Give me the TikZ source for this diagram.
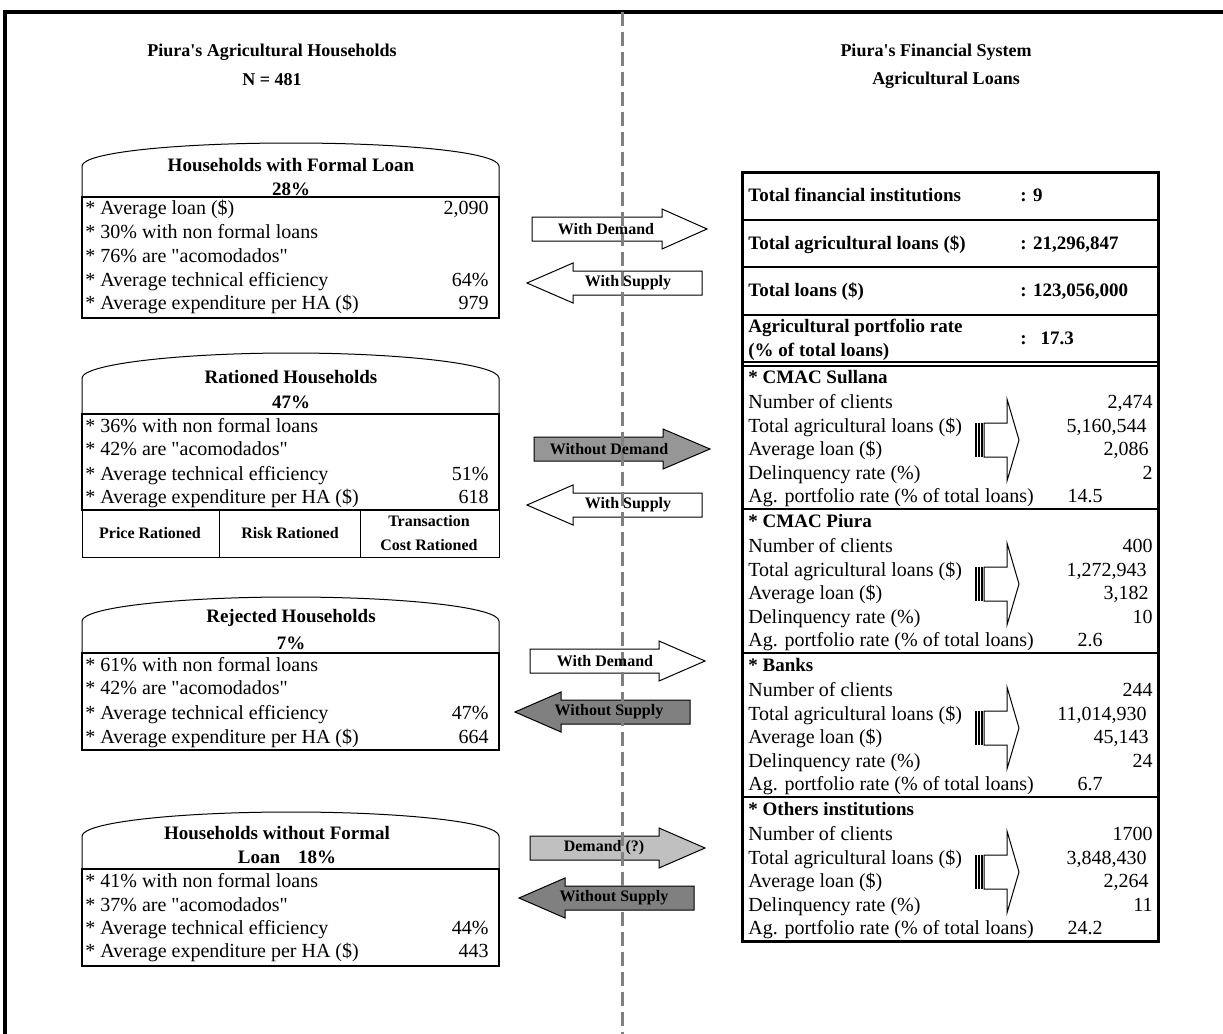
\documentclass[tikz,border=0pt]{standalone}
\usepackage{fontspec}
\setmainfont{Liberation Serif}
\usepackage{tikz}
\usetikzlibrary{positioning}

\definecolor{arrowmid}{RGB}{150,150,150}
\definecolor{arrowdark}{RGB}{128,128,128}
\definecolor{arrowlight}{RGB}{192,192,192}

\tikzset{
  txt/.style={font=\fontsize{10}{12}\selectfont, inner sep=0pt},
  hdr/.style={font=\fontsize{9.5}{11}\selectfont\bfseries, inner sep=0pt},
  lbl/.style={font=\fontsize{8}{10}\selectfont\bfseries, inner sep=0pt},
  ttl/.style={font=\fontsize{9}{11}\selectfont\bfseries, inner sep=0pt},
  boxline/.style={line width=1.1pt},
  thinline/.style={line width=0.5pt},
  blockarrow/.style={draw, line width=0.5pt, line join=miter},
}

% straight quotes as printed
\newcommand{\qq}[1]{\textquotedbl#1\textquotedbl}
% block arrows: left/base/tip/centre/fill and tip/base/right/centre/fill
\newcommand{\demandarrow}[5]{%
  \draw[blockarrow,fill=#5] (#1,#4-12) -- (#2,#4-12) -- (#2,#4-20) -- (#3,#4)
    -- (#2,#4+20) -- (#2,#4+12) -- (#1,#4+12) -- cycle;}
\newcommand{\supplyarrow}[5]{%
  \draw[blockarrow,fill=#5] (#3,#4-12) -- (#2,#4-12) -- (#2,#4-20) -- (#1,#4)
    -- (#2,#4+20) -- (#2,#4+12) -- (#3,#4+12) -- cycle;}
% rounded header: arc top, side start, body top
\newcommand{\dome}[3]{%
  \draw[thinline] (82,#3) -- (82,#2) .. controls (83,#2-14) and (180,#1) .. (291,#1)
    .. controls (402,#1) and (498,#2-14) .. (499,#2) -- (499,#3);}
% striped hollow arrow in the table
\newcommand{\stripearrow}[1]{%
  \foreach \sx in {976,979,982} \draw[line width=0.9pt] (\sx,#1-17) -- (\sx,#1+17);
  \draw[thinline] (984,#1-17) -- (1007,#1-17) -- (1007,#1-41) -- (1019,#1)
    -- (1007,#1+41) -- (1007,#1+17) -- (984,#1+17) -- cycle;}

\begin{document}
\begin{tikzpicture}[x=0.5pt,y=-0.5pt]
  \useasboundingbox (0,0) rectangle (1223,1034);
  \draw[line width=2pt] (5,1040) -- (5,12) -- (1230,12);

  % titles
  \node[ttl] (lefttitle) at (272,52) {Piura\textquotesingle s Agricultural Households};
  \node[ttl] (leftn) at (272,80) {N = 481};
  \node[ttl] (righttitle) at (936,52) {Piura\textquotesingle s Financial System};
  \node[ttl] (rightsub) at (946,80) {Agricultural Loans};

  % Households with formal loan
  \dome{143}{166}{197}
  \draw[boxline] (82,197) rectangle (499,318);
  \node[hdr] (formal) at (291,165) {Households with Formal Loan};
  \node[hdr] (formalpc) at (291,189) {28\%};
  \foreach \y/\txt/\val in {210/{* Average loan (\$)}/{2,090}, 234/{* 30\% with non formal loans}/{},
      258/{* 76\% are \qq{acomodados}}/{}, 282/{* Average technical efficiency}/{64\%},
      305/{* Average expenditure per HA (\$)}/{979}} {
    \node[txt,anchor=mid west] (fl\y) at (85,\y) {\txt};
    \node[txt,anchor=mid east] (flv\y) at (489,\y) {\val};
  }

  % Rationed households
  \dome{353}{378}{414}
  \draw[boxline] (82,414) rectangle (499,510);
  \draw[thinline] (82,510) rectangle (499,557);
  \draw[thinline] (219,510) -- (219,557) (360,510) -- (360,557);
  \node[hdr] (rationed) at (291,377) {Rationed Households};
  \node[hdr] (rationedpc) at (291,402) {47\%};
  \foreach \y/\txt/\val in {428/{* 36\% with non formal loans}/{}, 451/{* 42\% are \qq{acomodados}}/{},
      476/{* Average technical efficiency}/{51\%}, 499/{* Average expenditure per HA (\$)}/{618}} {
    \node[txt,anchor=mid west] (ra\y) at (85,\y) {\txt};
    \node[txt,anchor=mid east] (rav\y) at (489,\y) {\val};
  }
  \node[lbl] (price) at (150,533) {Price Rationed};
  \node[lbl] (risk) at (290,533) {Risk Rationed};
  \node[lbl,align=center] (trans) at (429,533) {Transaction\\[2pt]Cost Rationed};

  % Rejected households
  \dome{597}{621}{653}
  \draw[boxline] (82,653) rectangle (499,750);
  \node[hdr] (rejected) at (291,618) {Rejected Households};
  \node[hdr] (rejectedpc) at (291,643) {7\%};
  \foreach \y/\txt/\val in {667/{* 61\% with non formal loans}/{}, 690/{* 42\% are \qq{acomodados}}/{},
      715/{* Average technical efficiency}/{47\%}, 739/{* Average expenditure per HA (\$)}/{664}} {
    \node[txt,anchor=mid west] (re\y) at (85,\y) {\txt};
    \node[txt,anchor=mid east] (rev\y) at (489,\y) {\val};
  }

  % Households without formal loan
  \dome{812}{836}{869}
  \draw[boxline] (82,869) rectangle (499,966);
  \node[hdr] (noformal) at (277,833) {Households without Formal};
  \node[hdr] (noformalpc) at (287,857) {Loan\hspace{9pt}18\%};
  \foreach \y/\txt/\val in {883/{* 41\% with non formal loans}/{}, 907/{* 37\% are \qq{acomodados}}/{},
      930/{* Average technical efficiency}/{44\%}, 953/{* Average expenditure per HA (\$)}/{443}} {
    \node[txt,anchor=mid west] (nf\y) at (85,\y) {\txt};
    \node[txt,anchor=mid east] (nfv\y) at (489,\y) {\val};
  }

  % Financial system table
  \draw[line width=1.5pt] (742,172) rectangle (1158,941);
  \foreach \y in {220,267,315,362,366,509,653,797}
    \draw[boxline] (742,\y) -- (1158,\y);
  \foreach \y/\txt/\val in {197/{Total financial institutions}/{: 9},
      245/{Total agricultural loans (\$)}/{: 21,296,847}, 292/{Total loans (\$)}/{: 123,056,000}} {
    \node[hdr,anchor=mid west] (fs\y) at (748,\y) {\txt};
    \node[hdr,anchor=mid west] (fsv\y) at (1020,\y) {\val};
  }
  \node[hdr,anchor=mid west] (agrate) at (748,328) {Agricultural portfolio rate};
  \node[hdr,anchor=mid west] (agrate2) at (748,352) {(\% of total loans)};
  \node[hdr,anchor=mid west] (agratev) at (1020,340) {:\hspace{7pt}17.3};

  \foreach \sy/\name/\a/\b/\c/\d/\e in {365/{CMAC Sullana}/{2,474}/{5,160,544}/{2,086}/2/14.5,
      509/{CMAC Piura}/400/{1,272,943}/{3,182}/10/2.6,
      653/Banks/244/{11,014,930}/{45,143}/24/6.7,
      797/{Others institutions}/1700/{3,848,430}/{2,264}/11/24.2} {
    \node[hdr,anchor=mid west] (sec\sy) at (748,\sy+14) {* \name};
    \node[txt,anchor=mid west] (num\sy) at (748,\sy+39) {Number of clients};
    \node[txt,anchor=mid west] (tot\sy) at (748,\sy+62.5) {Total agricultural loans (\$)};
    \node[txt,anchor=mid west] (avg\sy) at (748,\sy+86) {Average loan (\$)};
    \node[txt,anchor=mid west] (del\sy) at (748,\sy+109.5) {Delinquency rate (\%)};
    \node[txt,anchor=mid west] (por\sy) at (748,\sy+133) {Ag. portfolio rate (\% of total loans)};
    \node[txt,anchor=mid east] (numv\sy) at (1153,\sy+39) {\a};
    \node[txt,anchor=mid east] (totv\sy) at (1147,\sy+62.5) {\b};
    \node[txt,anchor=mid east] (avgv\sy) at (1149,\sy+86) {\c};
    \node[txt,anchor=mid east] (delv\sy) at (1153,\sy+109.5) {\d};
    \node[txt,anchor=mid east] (porv\sy) at (1103,\sy+133) {\e};
    \stripearrow{\sy+75}
  }

  % demand and supply arrows
  \demandarrow{532}{662}{707}{229}{white}
  \supplyarrow{527}{573}{702}{283}{white}
  \demandarrow{534}{663}{710}{449}{arrowmid}
  \supplyarrow{527}{573}{702}{505}{white}
  \demandarrow{530}{659}{705}{661}{white}
  \supplyarrow{515}{561}{690}{712}{arrowdark}
  \demandarrow{530}{659}{705}{848}{arrowlight}
  \supplyarrow{519}{565}{694}{898}{arrowdark}

  \draw[gray, line width=1.5pt, dash pattern=on 7pt off 3pt] (622,12) -- (622,1040);

  \node[lbl] (dem1) at (606,229) {With Demand};
  \node[lbl] (sup1) at (628,283) {With Supply};
  \node[lbl] (dem2) at (609,449) {Without Demand};
  \node[lbl] (sup2) at (628,505) {With Supply};
  \node[lbl] (dem3) at (605,661) {With Demand};
  \node[lbl] (sup3) at (609,712) {Without Supply};
  \node[lbl] (dem4) at (604,848) {Demand (?)};
  \node[lbl] (sup4) at (614,898) {Without Supply};
\end{tikzpicture}
\end{document}
